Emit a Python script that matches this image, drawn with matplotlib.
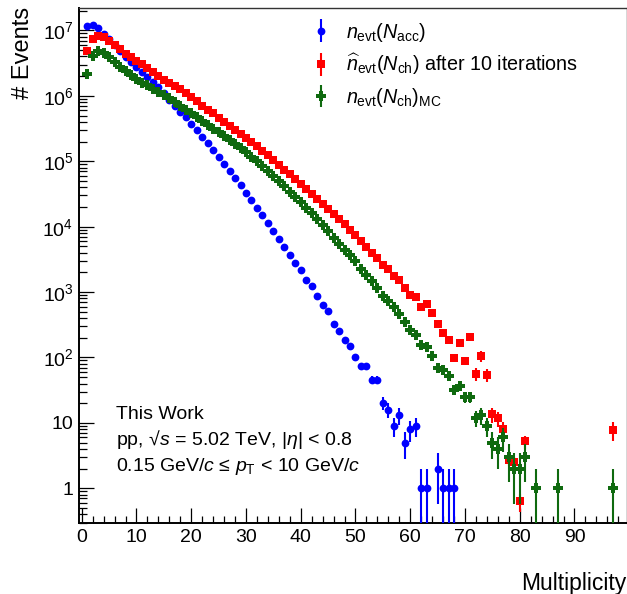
import numpy as np
import matplotlib
matplotlib.use("Agg")
import matplotlib.pyplot as plt
from matplotlib.ticker import FixedLocator, FixedFormatter, MultipleLocator, LogLocator, NullFormatter
from matplotlib.legend_handler import HandlerErrorbar

plt.rcParams['font.family'] = ['Liberation Sans', 'DejaVu Sans']
plt.rcParams['mathtext.fontset'] = 'custom'
plt.rcParams['mathtext.rm'] = 'Liberation Sans'
plt.rcParams['mathtext.it'] = 'Liberation Sans:italic'
plt.rcParams['mathtext.bf'] = 'Liberation Sans:bold'
plt.rcParams['mathtext.sf'] = 'Liberation Sans'

# ---- measured distribution n_evt(N_acc) ----
acc_mult = list(range(1, 64)) + [65, 66, 67, 68]
acc_events = [
    1.17e7, 1.20e7, 1.07e7, 8.83e6, 7.33e6, 6.00e6, 4.86e6, 3.98e6, 3.30e6, 2.80e6,
    2.34e6, 1.97e6, 1.65e6, 1.35e6, 1.11e6, 8.71e5, 7.08e5, 5.74e5, 4.71e5, 3.76e5,
    2.98e5, 2.38e5, 1.88e5, 1.49e5, 1.17e5, 9.18e4, 7.11e4, 5.56e4, 4.30e4, 3.31e4,
    2.53e4, 1.95e4, 1.51e4, 1.15e4, 8590, 6490, 4900, 3690, 2790, 2140,
    1510, 1220, 871, 635, 508, 329, 257, 187, 148, 101,
    74, 73, 46, 46, 20, 16, 9, 13, 5, 8,
    9, 1, 1, 2, 1, 1, 1,
]

# ---- unfolded distribution after 10 iterations ----
unf_mult = list(range(1, 82)) + [97]
unf_events = [
    4.84e6, 7.38e6, 8.13e6, 8.04e6, 7.00e6, 5.96e6, 5.13e6, 4.42e6, 3.89e6, 3.43e6,
    3.02e6, 2.63e6, 2.29e6, 2.00e6, 1.76e6, 1.55e6, 1.40e6, 1.26e6, 1.10e6, 9.55e5,
    8.22e5, 7.08e5, 6.17e5, 5.37e5, 4.62e5, 4.03e5, 3.51e5, 3.05e5, 2.63e5, 2.28e5,
    1.95e5, 1.68e5, 1.45e5, 1.23e5, 1.05e5, 8.91e4, 7.41e4, 6.31e4, 5.31e4, 4.50e4,
    3.77e4, 3.16e4, 2.67e4, 2.22e4, 1.85e4, 1.55e4, 1.30e4, 1.09e4, 8850, 7380,
    5980, 4900, 3980, 3350, 2590, 2230, 1780, 1510, 1170, 912,
    851, 598, 653, 484, 327, 239, 186, 99, 168, 89,
    208, 56.5, 106, 54, 13.5, 11.7, 8.1, 2.7, 2.5, 0.63,
    5.2, 7.8,
]
# relative uncertainties of the unfolded tail (N_ch = 68..81 and 97)
unf_tail_rel_err = [0.10, 0.10, 0.12, 0.10, 0.22, 0.20, 0.22, 0.25, 0.25, 0.28,
                    0.20, 0.20, 0.30, 0.22, 0.33]
unf_bulk_rel_err = 0.02

# ---- generated (MC truth) distribution ----
mc_mult = list(range(1, 82)) + [83, 87, 97]
mc_events = [
    2.17e6, 4.05e6, 4.82e6, 4.57e6, 3.89e6, 3.30e6, 2.77e6, 2.36e6, 2.07e6, 1.79e6,
    1.58e6, 1.45e6, 1.27e6, 1.15e6, 1.04e6, 9.12e5, 8.04e5, 7.11e5, 6.17e5, 5.43e5,
    4.79e5, 4.17e5, 3.63e5, 3.16e5, 2.75e5, 2.40e5, 2.09e5, 1.82e5, 1.58e5, 1.38e5,
    1.17e5, 1.00e5, 8.41e4, 7.00e4, 5.96e4, 5.00e4, 4.19e4, 3.43e4, 2.88e4, 2.39e4,
    1.95e4, 1.64e4, 1.30e4, 1.06e4, 8510, 6810, 5430, 4410, 3650, 2950,
    2280, 1850, 1460, 1140, 881, 738, 586, 468, 345, 260,
    217, 155, 143, 105, 70, 64, 53, 32, 37, 25,
    25, 12, 13, 9, 5, 4, 6, 3, 2, 2,
    3, 1, 1, 1,
]

y_tick_values = [1, 10, 1e2, 1e3, 1e4, 1e5, 1e6, 1e7]
y_tick_labels = ['1', '10', '$10^{2}$', '$10^{3}$', '$10^{4}$', '$10^{5}$', '$10^{6}$', '$10^{7}$']

legend_labels = [
    r'$n_{\mathrm{evt}}(N_{\mathrm{acc}})$',
    r'$\widehat{n}_{\mathrm{evt}}(N_{\mathrm{ch}})$ after 10 iterations',
    r'$n_{\mathrm{evt}}(N_{\mathrm{ch}})_{\mathrm{MC}}$',
]

BLUE = '#0000ff'
RED = '#ff0000'
GREEN = '#0f6a0f'


def asym_err(values, err):
    values = np.asarray(values, dtype=float)
    err = np.asarray(err, dtype=float)
    lower = np.minimum(err, values * (1 - 1e-3))
    return [lower, err]


acc_err = np.sqrt(np.asarray(acc_events, dtype=float))
mc_err = np.sqrt(np.asarray(mc_events, dtype=float))
unf_rel = np.full(len(unf_events), unf_bulk_rel_err)
unf_rel[-len(unf_tail_rel_err):] = unf_tail_rel_err
unf_err = unf_rel * np.asarray(unf_events, dtype=float)

fig = plt.figure(figsize=(6.27, 5.94), dpi=100)
ax = fig.add_axes([79 / 627, 71 / 594, 547.5 / 627, 515 / 594])
ax.set_yscale('log')

h_acc = ax.errorbar(acc_mult, acc_events, yerr=asym_err(acc_events, acc_err), fmt='o',
                    color=BLUE, ms=5.6, mew=0, elinewidth=1.5, capsize=0, zorder=3)
h_unf = ax.errorbar(unf_mult, unf_events, yerr=asym_err(unf_events, unf_err), fmt='s',
                    color=RED, ms=5.4, mew=0, elinewidth=1.5, capsize=0, zorder=4)
h_mc = ax.errorbar(mc_mult, mc_events, yerr=asym_err(mc_events, mc_err), fmt='P',
                   color=GREEN, ms=7.0, mew=0, elinewidth=1.5, capsize=0, zorder=5)

ax.set_xlim(-0.5, 99.5)
ax.set_ylim(0.295, 2.2e7)

ax.xaxis.set_major_locator(MultipleLocator(10))
ax.xaxis.set_minor_locator(MultipleLocator(2))
ax.yaxis.set_major_locator(FixedLocator(y_tick_values))
ax.yaxis.set_major_formatter(FixedFormatter(y_tick_labels))
ax.yaxis.set_minor_locator(LogLocator(base=10, subs=np.arange(2, 10), numticks=30))
ax.yaxis.set_minor_formatter(NullFormatter())

ax.tick_params(axis='both', which='both', direction='in', top=False, right=False, colors='black')
ax.tick_params(axis='x', which='major', length=10.8, width=0.9, labelsize=14, pad=4.5)
ax.tick_params(axis='x', which='minor', length=5.2, width=0.9)
ax.tick_params(axis='y', which='major', length=10.5, width=0.9, labelsize=14, pad=4)
ax.tick_params(axis='y', which='minor', length=5.8, width=0.9)

for side in ('left', 'bottom'):
    ax.spines[side].set_linewidth(1.4)
for side in ('top', 'right'):
    ax.spines[side].set_linewidth(1.0)
    ax.spines[side].set_color('#333333')

leg = ax.legend([h_acc, h_unf, h_mc], legend_labels,
                loc='upper left', bbox_to_anchor=(311 / 627, 1 - 20.5 / 594),
                bbox_transform=fig.transFigure, frameon=False, fontsize=14.2,
                borderpad=0, borderaxespad=0, handlelength=1.0, handletextpad=0.78,
                labelspacing=0.44, numpoints=1,
                handler_map={type(h_acc): HandlerErrorbar(yerr_size=0.57)})

fig.text(626 / 627, 1 - 590 / 594, 'Multiplicity', ha='right', va='baseline', fontsize=16.5)
fig.text(23 / 627, 1 - 7 / 594, '# Events', rotation=90, ha='center', va='top', fontsize=17)

fig.text(116 / 627, 1 - 419 / 594, 'This Work', fontsize=14, va='baseline')
fig.text(116 / 627, 1 - 445 / 594, r'pp, √$s$ = 5.02 TeV, |$\eta$| < 0.8', fontsize=14, va='baseline')
fig.text(116 / 627, 1 - 470.7 / 594, r'0.15 GeV/$c$ ≤ $p_{\mathrm{T}}$ < 10 GeV/$c$', fontsize=14, va='baseline')

fig.savefig('out.png', dpi=100)
